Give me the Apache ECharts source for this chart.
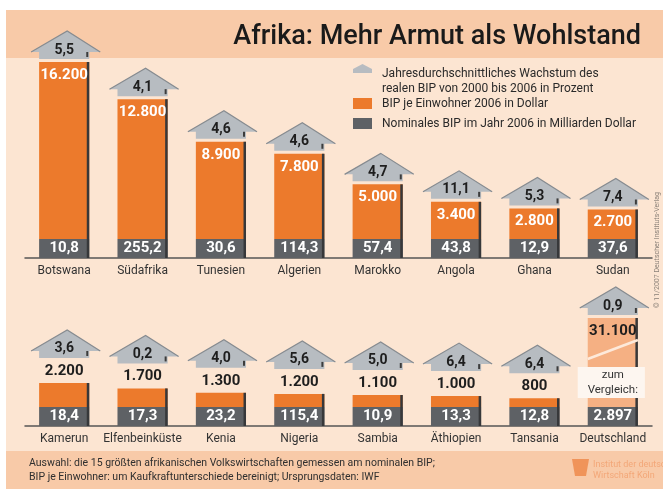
<!DOCTYPE html>
<html>
<head>
<meta charset="utf-8">
<script src="https://cdn.jsdelivr.net/npm/echarts@6/dist/echarts.min.js"></script>
<style>
  html, body { margin: 0; padding: 0; background: #fff; }
  #chart { width: 663px; height: 489px; }
</style>
</head>
<body>
<div id="chart"></div>
<script>
// Afrika: BIP je Einwohner (Balken), nominales BIP (grauer Sockel), Wachstum (Dach)
const topCountries = ["Botswana", "Südafrika", "Tunesien", "Algerien", "Marokko", "Angola", "Ghana", "Sudan"];
const topBip = [16200, 12800, 8900, 7800, 5000, 3400, 2800, 2700];
const topNominal = [10.8, 255.2, 30.6, 114.3, 57.4, 43.8, 12.9, 37.6];
const topGrowth = [5.5, 4.1, 4.6, 4.6, 4.7, 11.1, 5.3, 7.4];

const bottomCountries = ["Kamerun", "Elfenbeinküste", "Kenia", "Nigeria", "Sambia", "Äthiopien", "Tansania", "Deutschland"];
const bottomBip = [2200, 1700, 1300, 1200, 1100, 1000, 800, 31100];
const bottomNominal = [18.4, 17.3, 23.2, 115.4, 10.9, 13.3, 12.8, 2897];
const bottomGrowth = [3.6, 0.2, 4.0, 5.6, 5.0, 6.4, 6.4, 0.9];
const compareIndex = 7; // Deutschland, zum Vergleich (Balken gekappt)

const ORANGE = "#ec7a2c";
const ORANGE_LIGHT = "#f5b083";
const BASE_GRAY = "#5e6165";
const ROOF = "#b7bcc1";
const INK = "#1e1e1e";
const FONT = "Roboto";

const BASE_MIN = -1740;   // Platz fuer den grauen Sockel
const TOP_MAX = 16200;
const BOTTOM_MAX = 8150;

const fmtInt = v => String(Math.round(v)).replace(/\B(?=(\d{3})+(?!\d))/g, ".");
const fmtDec = v => (Number.isInteger(v) && v >= 1000) ? fmtInt(v) : v.toFixed(1).replace(".", ",");

function makeRender(axisMax, refIdx) {
  return function (params, api) {
    const i = api.value(0), bip = api.value(1), nom = api.value(2), gr = api.value(3);
    const top = api.coord([i, Math.min(bip, axisMax)]);
    const zero = api.coord([i, 0]);
    const base = api.coord([i, BASE_MIN]);
    const bw = api.size([1, 0])[0] * 0.64;
    const cx = top[0], x0 = cx - bw / 2, x1 = cx + bw / 2;
    const isRef = i === refIdx;
    const h = zero[1] - top[1];
    const inside = h >= 28;
    const bb = inside ? top[1] - 3 : top[1] - 25; // Unterkante Dach
    const kids = [
      { type: "rect", shape: { x: x0, y: top[1], width: bw, height: h }, style: { fill: isRef ? ORANGE_LIGHT : ORANGE } },
      { type: "rect", shape: { x: x0, y: zero[1], width: bw, height: base[1] - zero[1] }, style: { fill: BASE_GRAY } },
      { type: "rect", shape: { x: x1 - 2.5, y: top[1], width: 2.5, height: base[1] - top[1] }, style: { fill: "#37383a" } },
      { type: "polygon", shape: { points: [[x0, bb], [x0, bb - 7], [x0 - 8, bb - 7], [cx + 3, bb - 28], [x1 + 11, bb - 7], [x1, bb - 7], [x1, bb]] },
        style: { fill: ROOF } },
      { type: "polyline", shape: { points: [[x0 - 8, bb - 7], [cx + 3, bb - 28], [x1 + 11, bb - 7]] },
        style: { stroke: "#868b90", lineWidth: 1.2, fill: null } },
      { type: "rect", shape: { x: x1 - 3, y: bb - 7, width: 2, height: 5 }, style: { fill: "#3c3c3c" } },
      { type: "text", style: { text: fmtDec(gr), x: cx, y: bb - 9, align: "center", verticalAlign: "middle",
        fill: INK, font: "bold 14px " + FONT } },
      { type: "text", style: { text: fmtInt(bip), x: cx, y: inside ? top[1] + 13 : top[1] - 12, align: "center", verticalAlign: "middle",
        fill: inside && !isRef ? "#fff" : INK, font: "bold 15px " + FONT } },
      { type: "text", style: { text: fmtDec(nom), x: cx, y: (zero[1] + base[1]) / 2, align: "center", verticalAlign: "middle",
        fill: "#fff", font: "bold 15px " + FONT } }
    ];
    if (isRef) {
      kids.push(
        { type: "line", shape: { x1: x0, y1: top[1] + 41, x2: x1, y2: top[1] + 22 }, style: { stroke: "#fde9da", lineWidth: 2.5 } },
        { type: "rect", shape: { x: x0 - 10, y: top[1] + 49, width: bw + 17, height: 31 }, style: { fill: "#fdf6f0" } },
        { type: "text", style: { text: "zum\nVergleich:", x: cx, y: top[1] + 64.5, align: "center", verticalAlign: "middle",
          fill: "#333", font: "11.5px " + FONT, lineHeight: 15 } }
      );
    }
    return { type: "group", children: kids };
  };
}

const chart = echarts.init(document.getElementById("chart"), null, { renderer: "canvas" });

const xAxisBase = {
  type: "category",
  axisLine: { onZero: false, lineStyle: { color: "#555", width: 1.5 } },
  axisTick: { show: false },
  axisLabel: { interval: 0, color: "#333", fontSize: 12, fontFamily: FONT, margin: 7 },
  splitLine: { show: false }
};
const yAxisBase = { type: "value", show: false, min: BASE_MIN, splitLine: { show: false } };

const legendX = 353;
chart.setOption({
  backgroundColor: "#fce5d2",
  animation: false,
  grid: [
    { left: 25, right: 11, top: 62, bottom: 231 },
    { left: 25, right: 11, top: 318, bottom: 63 }
  ],
  xAxis: [
    Object.assign({}, xAxisBase, { gridIndex: 0, data: topCountries }),
    Object.assign({}, xAxisBase, { gridIndex: 1, data: bottomCountries })
  ],
  yAxis: [
    Object.assign({}, yAxisBase, { gridIndex: 0, max: TOP_MAX }),
    Object.assign({}, yAxisBase, { gridIndex: 1, max: BOTTOM_MAX })
  ],
  graphic: [
    { type: "rect", z: 0, shape: { x: 0, y: 0, width: 663, height: 10 }, style: { fill: "#ffffff" } },
    { type: "rect", z: 0, shape: { x: 0, y: 0, width: 6, height: 489 }, style: { fill: "#ffffff" } },
    { type: "rect", z: 0, shape: { x: 6, y: 10, width: 657, height: 48 }, style: { fill: "#f8caa8" } },
    { type: "rect", z: 0, shape: { x: 6, y: 451, width: 657, height: 38 }, style: { fill: "#f8caa8" } },
    { type: "text", z: 1, style: { text: "Afrika: Mehr Armut als Wohlstand", x: 641, y: 37, align: "right", verticalAlign: "middle",
      fill: "#1a1a1a", font: "500 27px " + FONT } },
    // Legende
    { type: "polygon", z: 1, shape: { points: [[legendX, 73], [legendX, 69], [legendX + 9.5, 64], [legendX + 19, 69], [legendX + 19, 73]] },
      style: { fill: ROOF } },
    { type: "rect", z: 1, shape: { x: legendX, y: 98, width: 19, height: 11 }, style: { fill: ORANGE } },
    { type: "rect", z: 1, shape: { x: legendX, y: 118, width: 19, height: 11 }, style: { fill: BASE_GRAY } },
    { type: "text", z: 1, style: { text: "Jahresdurchschnittliches Wachstum des\nrealen BIP von 2000 bis 2006 in Prozent", x: 382, y: 66,
      fill: "#2a2a2a", font: "12px " + FONT, lineHeight: 15 } },
    { type: "text", z: 1, style: { text: "BIP je Einwohner 2006 in Dollar", x: 382, y: 104, verticalAlign: "middle",
      fill: "#2a2a2a", font: "12px " + FONT } },
    { type: "text", z: 1, style: { text: "Nominales BIP im Jahr 2006 in Milliarden Dollar", x: 382, y: 124, verticalAlign: "middle",
      fill: "#2a2a2a", font: "12px " + FONT } },
    // Copyright senkrecht
    { type: "text", z: 1, x: 657, y: 250, rotation: Math.PI / 2,
      style: { text: "© 11/2007 Deutscher Instituts-Verlag", x: 0, y: 0, align: "center", verticalAlign: "middle",
        fill: "#8a8078", font: "7px " + FONT } },
    // Fussnote
    { type: "text", z: 1, style: { text: "Auswahl: die 15 größten afrikanischen Volkswirtschaften gemessen am nominalen BIP;\nBIP je Einwohner: um Kaufkraftunterschiede bereinigt; Ursprungsdaten: IWF",
      x: 29, y: 456, fill: "#2f2f2f", font: "10.5px " + FONT, lineHeight: 14.5 } },
    { type: "polygon", z: 1, shape: { points: [[572, 459], [589, 459], [586, 476], [575, 476]] }, style: { fill: "#f0945a" } },
    { type: "text", z: 1, style: { text: "Institut der deutschen\nWirtschaft Köln", x: 593, y: 459,
      fill: "#f3a778", font: "9px " + FONT, lineHeight: 11 } }
  ],
  series: [
    {
      type: "custom", xAxisIndex: 0, yAxisIndex: 0, z: 5, clip: false,
      renderItem: makeRender(TOP_MAX, -1),
      encode: { x: 0, y: 1 },
      data: topCountries.map((c, i) => [i, topBip[i], topNominal[i], topGrowth[i]])
    },
    {
      type: "custom", xAxisIndex: 1, yAxisIndex: 1, z: 5, clip: false,
      renderItem: makeRender(BOTTOM_MAX, compareIndex),
      encode: { x: 0, y: 1 },
      data: bottomCountries.map((c, i) => [i, bottomBip[i], bottomNominal[i], bottomGrowth[i]])
    }
  ]
});
</script>
</body>
</html>
